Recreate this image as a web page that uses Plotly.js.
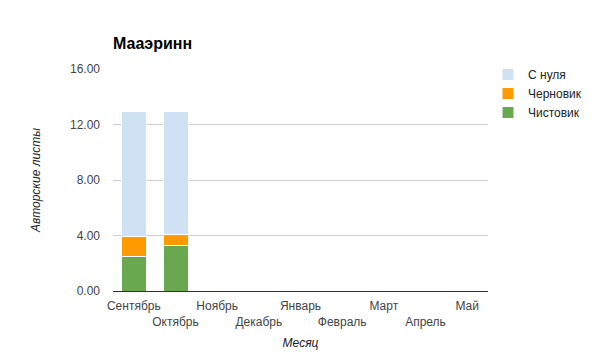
<!DOCTYPE html>
<html><head><meta charset="utf-8">
<script src="https://cdn.plot.ly/plotly-3.0.1.min.js"></script>
<style>body{margin:0;padding:0;background:#fff}#chart{width:600px;height:361px}</style>
</head><body><div id="chart"></div>
<script>
const months = ["Сентябрь","Октябрь","Ноябрь","Декабрь","Январь","Февраль","Март","Апрель","Май"];
const chistovik = [2.47, 3.27, 0, 0, 0, 0, 0, 0, 0];
const chernovik = [1.43, 0.82, 0, 0, 0, 0, 0, 0, 0];
const sNulya = [9.05, 8.86, 0, 0, 0, 0, 0, 0, 0];
const yTicks = [0, 4, 8, 12, 16];

const tickText = months.map((m, i) => i % 2 ? "<br>" + m : m);
const line = {color: "#ffffff", width: 1};
const traces = [
  {type: "bar", name: "Чистовик", x: months, y: chistovik, marker: {color: "#6aa84f", line}},
  {type: "bar", name: "Черновик", x: months, y: chernovik, marker: {color: "#ff9900", line}},
  {type: "bar", name: "С нуля", x: months, y: sNulya, marker: {color: "#cfe2f3", line}}
];
const font = {family: "Arial, Liberation Sans, sans-serif", size: 12, color: "#444"};
const layout = {
  width: 600, height: 361,
  margin: {l: 113, r: 112, t: 69, b: 70},
  barmode: "stack", bargap: 0.4,
  font: font,
  paper_bgcolor: "#fff", plot_bgcolor: "#fff",
  showlegend: true,
  title: {text: "<b>Мааэринн</b>", x: 113/600, xanchor: "left", y: 1 - 43/361, yanchor: "middle",
          font: {family: "Arial, Liberation Sans, sans-serif", size: 16, color: "#000"}},
  legend: {xref: "container", yref: "container", x: 488/600, xanchor: "left", y: 1 - 60/361, yanchor: "top",
           font: {size: 12, color: "#222"}, traceorder: "reversed", itemwidth: 30, tracegroupgap: 0,
           bgcolor: "rgba(0,0,0,0)"},
  xaxis: {tickmode: "array", tickvals: months, ticktext: tickText, tickangle: 0,
          showgrid: false, showline: true, linecolor: "#333", linewidth: 1, ticks: "",
          ticklabelstandoff: 4,
          title: {text: "<i>Месяц</i>", standoff: 10, font: {size: 12, color: "#222"}}, automargin: false},
  yaxis: {range: [0, 16], tickvals: yTicks, ticktext: yTicks.map(v => v.toFixed(2)),
          showgrid: true, gridcolor: "#ccc", zeroline: false, ticks: "", showline: false,
          ticklabelstandoff: 12,
          title: {text: "<i>Авторские листы</i>", standoff: 26, font: {size: 12, color: "#222"}}, automargin: false}
};
Plotly.newPlot("chart", traces, layout, {displayModeBar: false, staticPlot: true});
</script></body></html>
